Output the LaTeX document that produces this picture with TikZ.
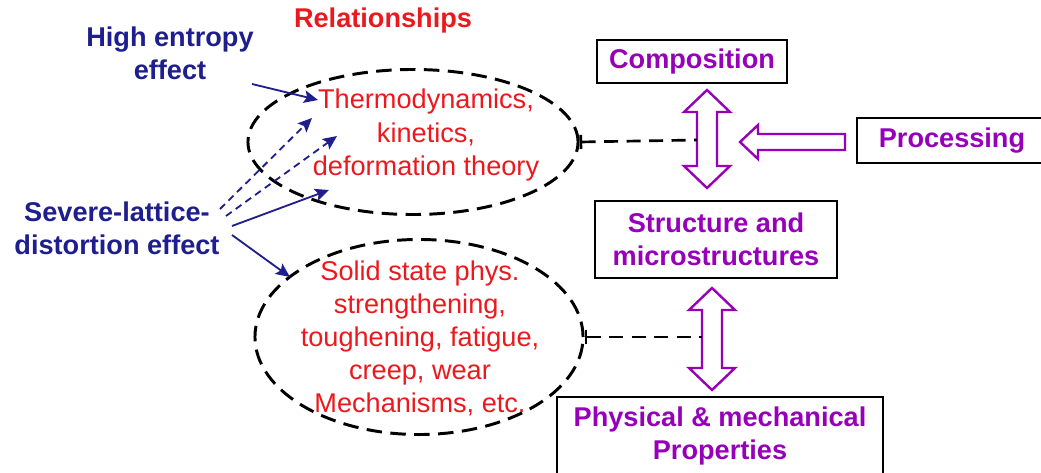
\documentclass[tikz,border=0pt]{standalone}
\usepackage{fontspec}
\setmainfont{Liberation Sans}
\usetikzlibrary{arrows.meta,shapes.geometric}

\definecolor{navy}{RGB}{30,30,140}
\definecolor{relred}{RGB}{235,25,30}
\definecolor{purp}{RGB}{150,0,185}

\tikzset{
  bluetxt/.style={text=navy,font=\fontsize{19.3}{23.5}\selectfont\bfseries,align=center},
  redtxt/.style={text=relred,font=\fontsize{19.3}{23.5}\selectfont,align=center},
  box/.style={draw=black,line width=1.5pt,text=purp,
    font=\fontsize{19.3}{23.5}\selectfont\bfseries,align=center,inner sep=0pt},
  oval/.style={ellipse,draw=black,line width=2.1pt,dash pattern=on 11pt off 6pt,inner sep=0pt},
  link/.style={draw=black,line width=1.9pt,dash pattern=on 10pt off 6pt,{Bar[width=10pt]}-},
  bluearrow/.style={draw=navy,line width=1.3pt,-{Stealth[length=10pt,width=9pt,inset=2pt]}},
  bluedash/.style={bluearrow,dash pattern=on 5pt off 3.5pt},
  hollow/.style={draw=purp,line width=1.7pt,fill=white,line join=miter}
}

\begin{document}
\begin{tikzpicture}[x=0.025cm,y=-0.025cm]
  \useasboundingbox (0,0) rectangle (1041,473);

  % left side texts
  \node[bluetxt] (hea) at (170,53) {High entropy\\effect};
  \node[bluetxt] (sld) at (117,228) {Severe-lattice-\\distortion effect};
  \node[text=relred,font=\fontsize{19.3}{23.5}\selectfont\bfseries] (rel) at (383,20) {Relationships};

  % the two ovals
  \node[oval,minimum width=8.25cm,minimum height=3.625cm] (ell1) at (413,142) {};
  \node[redtxt] (thermo) at (426,135) {Thermodynamics,\\kinetics,\\deformation theory};
  \node[oval,minimum width=8.2cm,minimum height=4.875cm] (ell2) at (419,337) {};
  \node[redtxt] (solid) at (420,338) {Solid state phys.\\strengthening,\\toughening, fatigue,\\creep, wear\\Mechanisms, etc.};

  % boxes
  \node[box,minimum width=4.75cm,minimum height=1.075cm] (comp) at (692,61.5) {Composition};
  \node[box,minimum width=4.75cm,minimum height=1.125cm] (proc) at (952,140.5) {Processing};
  \node[box,minimum width=6.05cm,minimum height=1.925cm] (struct) at (716,239.5) {Structure and\\microstructures};
  \node[box,minimum width=8.15cm,minimum height=2.15cm] (prop) at (720,440) {};
  \node[text=purp,font=\fontsize{19.3}{23.5}\selectfont\bfseries,align=center] (proptxt) at (720,436) {Physical \& mechanical\\Properties};

  % hollow arrows
  \draw[hollow] (707,90) -- (730,112) -- (717,112) -- (717,166) -- (730,166) -- (707,188)
    -- (684,166) -- (697,166) -- (697,112) -- (684,112) -- cycle;
  \draw[hollow] (712,288) -- (735,310) -- (722,310) -- (722,368) -- (735,368) -- (712,390)
    -- (689,368) -- (702,368) -- (702,310) -- (689,310) -- cycle;
  \draw[hollow] (740,142) -- (758,125) -- (758,134) -- (845,134) -- (845,150) -- (758,150)
    -- (758,159) -- cycle;

  % dashed links
  \coordinate (shaft1) at (697,140);
  \coordinate (shaft2) at (702,337);
  \draw[link] (ell1.east) -- (shaft1);
  \draw[link] (ell2.east) -- (shaft2);

  % effect arrows
  \coordinate (t1) at (318,100);
  \coordinate (t2) at (312,118);
  \coordinate (t3) at (337,136);
  \coordinate (t4) at (329,190);
  \coordinate (t5) at (290,277);
  \draw[bluearrow] (252,84) -- (t1);
  \draw[bluedash] (220,209) -- (t2);
  \draw[bluedash] (226,216) -- (t3);
  \draw[bluearrow] (232,226) -- (t4);
  \draw[bluearrow] (232,235) -- (t5);

\end{tikzpicture}
\end{document}
